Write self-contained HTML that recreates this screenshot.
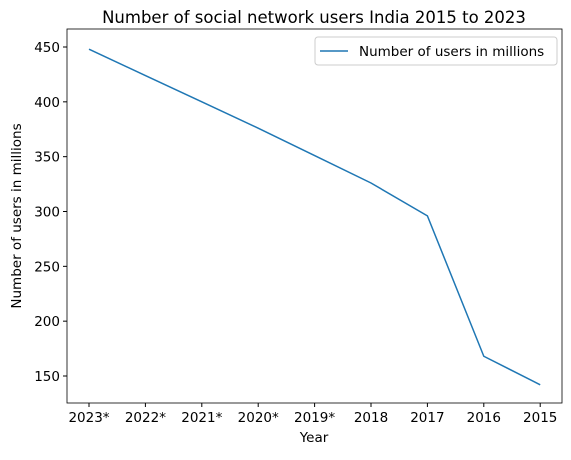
<!DOCTYPE html>
<html><head><meta charset="utf-8"><style>
body{margin:0;background:#fff;}
text{font-family:"DejaVu Sans","Liberation Sans",sans-serif;fill:#000;}
</style></head><body>
<svg id="chart" width="571" height="455" viewBox="0 0 571 455" xmlns="http://www.w3.org/2000/svg">
<rect width="571" height="455" fill="#fff"/>
<text x="314" y="23" font-size="16.5" text-anchor="middle">Number of social network users India 2015 to 2023</text>
<g id="axes"></g>
<text x="314" y="442" font-size="13.5" text-anchor="middle">Year</text>
<text transform="translate(21,216) rotate(-90)" font-size="13.5" text-anchor="middle">Number of users in millions</text>
<g>
<rect x="315" y="37" width="242" height="28" fill="#fff" stroke="#ccc" rx="3"/>
<line x1="320" y1="51" x2="348" y2="51" stroke="#1f77b4" stroke-width="1.5"/>
<text x="359" y="56" font-size="13.5">Number of users in millions</text>
</g>
</svg>
<script>
const categories=["2023*","2022*","2021*","2020*","2019*","2018","2017","2016","2015"];
const values=[448,424,400,376,351,326,296,168,142];
const yTicks=[150,200,250,300,350,400,450];
const L=67,R=562,T=29,B=403;
const x0=89,dx=56.4;
function xs(i){return x0+i*dx;}
function ys(v){return 47+(450-v)*(329/300);}
const g=document.getElementById('axes');
const NS="http://www.w3.org/2000/svg";
function mk(t,a,txt){const e=document.createElementNS(NS,t);for(const k in a)e.setAttribute(k,a[k]);if(txt!==undefined)e.textContent=txt;g.appendChild(e);return e;}
yTicks.forEach(v=>{const y=ys(v);
const t=mk('line',{x1:L-4,x2:L,y1:y,y2:y,stroke:'#000'});


const l=mk('text',{x:L-7,y:y+5,'font-size':13.5,'text-anchor':'end'},v);

});
categories.forEach((c,i)=>{const x=xs(i);
const t=mk('line',{x1:x,x2:x,y1:B,y2:B+4,stroke:'#000'});


const l=mk('text',{x:x,y:B+19,'font-size':13.5,'text-anchor':'middle'},c);

});
const p=mk('polyline',{points:values.map((v,i)=>xs(i)+','+ys(v)).join(' '),fill:'none',stroke:'#1f77b4','stroke-width':1.5});


const f=mk('rect',{x:L,y:T,width:R-L,height:B-T,fill:'none',stroke:'#000','stroke-width':0.8});


</script>
</body></html>
